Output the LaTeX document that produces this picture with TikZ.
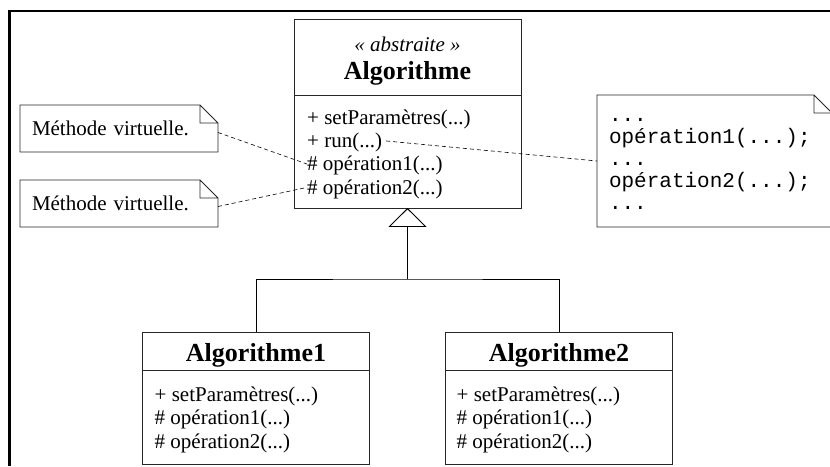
\documentclass[tikz,border=0pt]{standalone}
\usepackage{fontspec}
\setmainfont{Liberation Serif}
\setmonofont{Liberation Mono}
\usetikzlibrary{positioning, arrows.meta}
\tikzstyle{classhead} = [rectangle, draw=black!85, line width=0.9pt, outer sep=0pt,
    inner sep=0pt, minimum width=227pt]
\tikzstyle{classops} = [classhead, minimum height=94pt]
\tikzstyle{op} = [inner sep=0pt, text height=18.5pt, text depth=4.5pt,
    font=\fontsize{21}{23}\selectfont]
\tikzstyle{note} = [rectangle, inner xsep=12pt, inner ysep=0pt, outer sep=0pt,
    align=left, font=\fontsize{21}{23}\selectfont]
\tikzstyle{noteline} = [draw=black!85, line width=0.9pt]
\tikzstyle{line} = [draw, line width=0.9pt]
\tikzstyle{link} = [draw, line width=0.6pt, dash pattern=on 4pt off 3pt]
\tikzstyle{generalization} = [line, -{Triangle[open, length=19pt, width=38pt]}]
% note outline with folded corner
\newcommand{\noteoutline}[1]{%
  \draw[noteline] ([xshift=-18pt]#1.north east) -- (#1.north west) -- (#1.south west)
    -- (#1.south east) -- ([yshift=-18pt]#1.north east) -- cycle
    ([xshift=-18pt]#1.north east) |- ([yshift=-18pt]#1.north east);}

\begin{document}
\begin{tikzpicture}[x=1pt, y=1pt]
        \useasboundingbox (0,0) rectangle (830,466);
        % Frame
        \draw[line width=2.5pt] (9.5,0) |- (830,455);

        % Abstract class
        \node [classhead, minimum height=76pt] (algo) at (407.5,409) {};
        \node [font=\fontsize{21}{23}\selectfont\itshape, anchor=base] (algo stereo)
            at ([yshift=-33pt]algo.north) {« abstraite »};
        \node [font=\fontsize{26}{28}\selectfont\bfseries, anchor=base] (algo name)
            at ([yshift=-61pt]algo.north) {Algorithme};
        \node [classops, minimum height=113pt, below=0pt of algo] (algo ops) {};
        \node [op, below right=10.5pt and 13pt of algo ops.north west] (algo set) {+ setParamètres(...)};
        \node [op, below=0pt of algo set.south west, anchor=north west] (algo run) {+ run(...)};
        \node [op, below=0pt of algo run.south west, anchor=north west] (algo op1) {\# opération1(...)};
        \node [op, below=0pt of algo op1.south west, anchor=north west] (algo op2) {\# opération2(...)};

        % Subclasses
        \node [classhead, minimum height=38pt, text height=22pt, text depth=0pt,
            font=\fontsize{26}{28}\selectfont\bfseries] (algo1) at (256,115) {Algorithme1};
        \node [classops, below=0pt of algo1] (algo1 ops) {};
        \node [op, below right=12.5pt and 12pt of algo1 ops.north west] (algo1 set) {+ setParamètres(...)};
        \node [op, below=0pt of algo1 set.south west, anchor=north west] (algo1 op1) {\# opération1(...)};
        \node [op, below=0pt of algo1 op1.south west, anchor=north west] (algo1 op2) {\# opération2(...)};

        \node [classhead, minimum height=38pt, text height=22pt, text depth=0pt,
            font=\fontsize{26}{28}\selectfont\bfseries, right=76pt of algo1] (algo2) {Algorithme2};
        \node [classops, below=0pt of algo2] (algo2 ops) {};
        \node [op, below right=12.5pt and 11pt of algo2 ops.north west] (algo2 set) {+ setParamètres(...)};
        \node [op, below=0pt of algo2 set.south west, anchor=north west] (algo2 op1) {\# opération1(...)};
        \node [op, below=0pt of algo2 op1.south west, anchor=north west] (algo2 op2) {\# opération2(...)};

        % Notes
        \node [note, minimum width=198pt, minimum height=47pt, text width=174pt] (note1)
            at (119,337.5) {Méthode virtuelle.};
        \node [note, minimum width=198pt, minimum height=47pt, text width=174pt,
            below=28pt of note1] (note2) {Méthode virtuelle.};
        \node [note, minimum width=235pt, minimum height=132pt, text width=211pt,
            text height=10pt, font=\ttfamily\fontsize{21}{22}\selectfont] (note3) at (714.5,305)
            {...\\opération1(...);\\...\\opération2(...);\\...};
        \noteoutline{note1}
        \noteoutline{note2}
        \noteoutline{note3}

        % Lines
        \path [link] ([yshift=-4pt]note1.east) -- (algo op1.west);
        \path [link] ([yshift=-3pt]note2.east) -- (algo op2.west);
        \path [link, shorten <=4pt] (algo run.east) -- (note3.west);
        \coordinate (join) at ([yshift=-71pt]algo ops.south);
        \path [line] (algo1.north) |- (join) -| (algo2.north);
        \path [generalization] (join) -- (algo ops.south);
\end{tikzpicture}
\end{document}
